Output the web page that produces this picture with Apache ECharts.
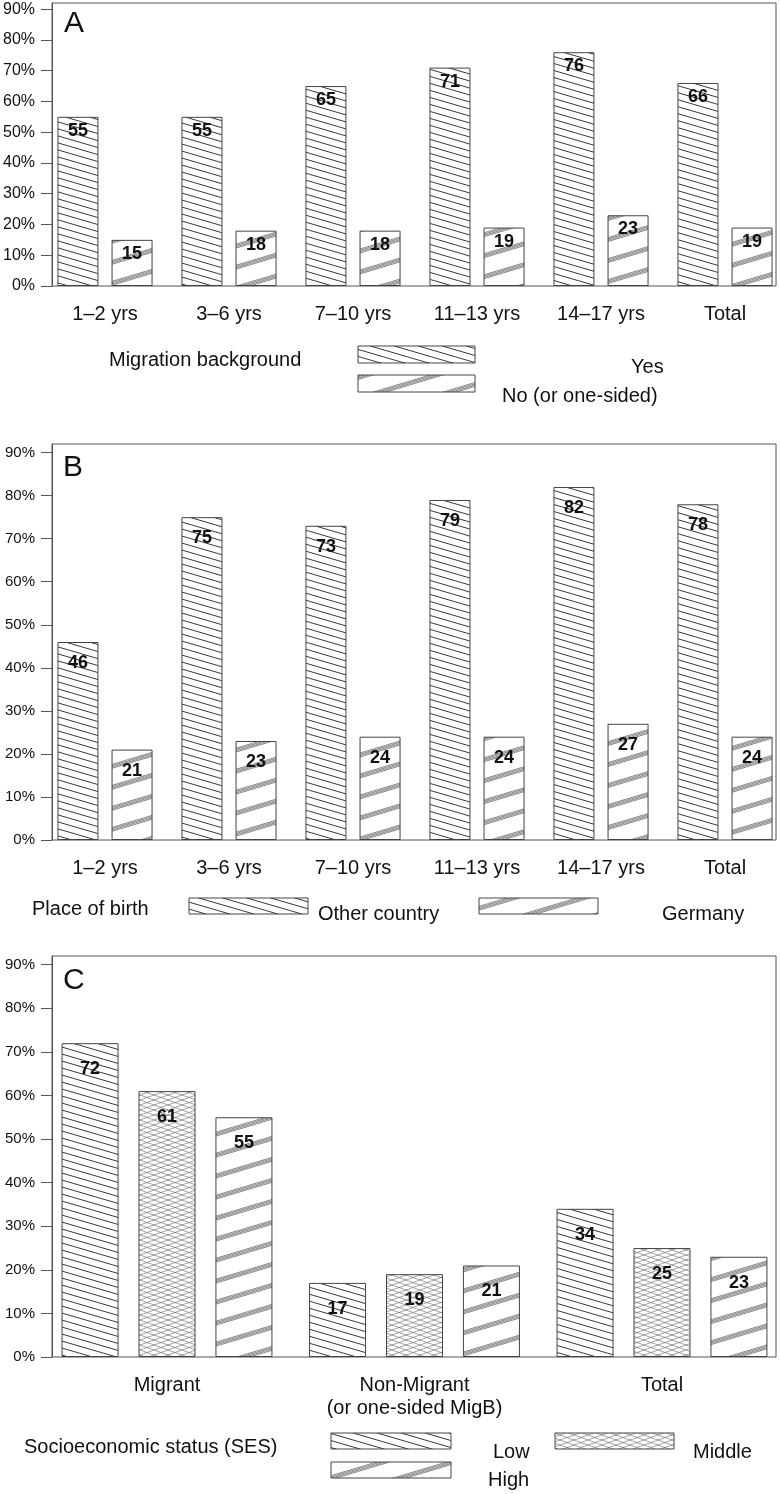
<!DOCTYPE html>
<html><head><meta charset="utf-8">
<script src="https://cdn.jsdelivr.net/npm/echarts@6/dist/echarts.min.js"></script>
<style>html,body{margin:0;padding:0;background:#fff}#c{width:780px;height:1494px}</style>
</head><body><div id="c"></div>
<script>
// ---- data ----
const ageCategories = ['1–2 yrs', '3–6 yrs', '7–10 yrs', '11–13 yrs', '14–17 yrs', 'Total'];
const migYes = [55, 55, 65, 71, 76, 66];
const migNo = [15, 18, 18, 19, 23, 19];
const birthOther = [46, 75, 73, 79, 82, 78];
const birthGermany = [21, 23, 24, 24, 27, 24];
const sesCategories = ['Migrant', 'Non-Migrant\n(or one-sided MigB)', 'Total'];
const sesLow = [72, 17, 34];
const sesMiddle = [61, 19, 25];
const sesHigh = [55, 21, 23];
const yTicks = [0, 10, 20, 30, 40, 50, 60, 70, 80, 90];

const FONT = 'Liberation Sans, Arial, Helvetica, sans-serif';

// ---- patterns ----
function tile(w, h, draw) {
  const c = document.createElement('canvas');
  c.width = w; c.height = h;
  const ctx = c.getContext('2d');
  ctx.fillStyle = '#fff'; ctx.fillRect(0, 0, w, h);
  draw(ctx, w, h);
  return { image: c, repeat: 'repeat' };
}
const patDown = tile(24, 7, (ctx, w, h) => {
  ctx.strokeStyle = '#222'; ctx.lineWidth = 0.9;
  for (let k = -1; k <= 1; k++) { ctx.beginPath(); ctx.moveTo(0, k * h); ctx.lineTo(w, k * h + h); ctx.stroke(); }
});
const patUp = tile(70, 21, (ctx, w, h) => {
  ctx.strokeStyle = '#555'; ctx.lineWidth = 0.7;
  for (let k = -1; k <= 1; k++) {
    for (let d = 0; d < 4; d++) {
      const o = d * 1.3;
      ctx.beginPath(); ctx.moveTo(0, h + k * h + o); ctx.lineTo(w, k * h + o); ctx.stroke();
    }
  }
});
const patCross = tile(14, 5, (ctx, w, h) => {
  ctx.strokeStyle = '#666'; ctx.lineWidth = 0.6;
  for (let k = -1; k <= 1; k++) {
    ctx.beginPath(); ctx.moveTo(0, k * h); ctx.lineTo(w, k * h + h); ctx.stroke();
    ctx.beginPath(); ctx.moveTo(0, k * h + h); ctx.lineTo(w, k * h); ctx.stroke();
  }
});

// ---- layout helpers ----
const panels = [
  { top: 3, height: 283, left: 105, right: 55, cats: ageCategories, yFont: 16 },
  { top: 444, height: 396, left: 105, right: 55, cats: ageCategories, yFont: 15 },
  { top: 956, height: 401, left: 167, right: 118, cats: sesCategories, yFont: 15 }
];
const grid = [], xAxis = [], yAxis = [];
panels.forEach((p, i) => {
  grid.push({ left: 52, right: 4, top: p.top, height: p.height, show: true, borderColor: '#555', borderWidth: 1, backgroundColor: 'transparent' });
  grid.push({ left: p.left, right: p.right, top: p.top, height: p.height });
  xAxis.push({ gridIndex: 2 * i, type: 'value', min: 0, max: 1, show: false });
  xAxis.push({ gridIndex: 2 * i + 1, type: 'category', data: p.cats, boundaryGap: false,
    axisLine: { show: false }, axisTick: { show: false }, splitLine: { show: false },
    axisLabel: { interval: 0, fontSize: 20, fontFamily: FONT, color: '#111', margin: 17, lineHeight: 23 } });
  yAxis.push({ gridIndex: 2 * i, type: 'value', min: 0, max: 92, splitLine: { show: false },
    axisLine: { show: true, lineStyle: { color: '#555', width: 1 } },
    axisTick: { show: true, length: 11, customValues: yTicks, lineStyle: { color: '#555' } },
    axisLabel: { customValues: yTicks, formatter: '{value}%', fontSize: p.yFont, fontFamily: FONT, color: '#111', margin: 17 } });
  yAxis.push({ gridIndex: 2 * i + 1, type: 'value', min: 0, max: 92, show: false, splitLine: { show: false } });
});

function bar(name, data, axisIdx, pattern, barWidth, barGap, distance) {
  return {
    type: 'bar', name, data, xAxisIndex: axisIdx, yAxisIndex: axisIdx, barWidth, barGap,
    itemStyle: { color: pattern, borderColor: '#444', borderWidth: 1 },
    label: { show: true, position: 'insideTop', distance, fontSize: 18, fontWeight: 'bold', color: '#111', fontFamily: FONT }
  };
}
const series = [
  bar('Yes', migYes, 1, patDown, 41, '32%', 5),
  bar('No (or one-sided)', migNo, 1, patUp, 41, '32%', 5),
  bar('Other country', birthOther, 3, patDown, 41, '32%', 12),
  bar('Germany', birthGermany, 3, patUp, 41, '32%', 12),
  bar('Low', sesLow, 5, patDown, 57, '35%', 17),
  bar('Middle', sesMiddle, 5, patCross, 57, '35%', 17),
  bar('High', sesHigh, 5, patUp, 57, '35%', 17)
];

function txt(text, x, y, size) {
  return { type: 'text', x, y, silent: true,
    style: { text, fontSize: size, fontFamily: FONT, fill: '#111', align: 'left', verticalAlign: 'middle', textAlign: 'left', textVerticalAlign: 'middle' } };
}
function swatch(x, y, w, h, pattern) {
  return { type: 'rect', silent: true, shape: { x, y, width: w, height: h }, style: { fill: pattern, stroke: '#444', lineWidth: 1 } };
}
const graphic = [
  txt('A', 64, 24, 30), txt('B', 63, 468, 30), txt('C', 63, 981, 30),
  txt('Migration background', 109, 360, 20),
  swatch(358, 346, 117, 17, patDown), swatch(358, 375, 117, 17, patUp),
  txt('Yes', 631, 367, 20), txt('No (or one-sided)', 502, 396, 20),
  txt('Place of birth', 32, 909, 20),
  swatch(189, 898, 119, 16, patDown), txt('Other country', 318, 914, 20),
  swatch(479, 898, 119, 16, patUp), txt('Germany', 662, 914, 20),
  txt('Socioeconomic status (SES)', 24, 1447, 20),
  swatch(331, 1433, 120, 16, patDown), txt('Low', 493, 1452, 20),
  swatch(555, 1433, 119, 16, patCross), txt('Middle', 693, 1452, 20),
  swatch(331, 1462, 120, 16, patUp), txt('High', 488, 1480, 20)
];

const chart = echarts.init(document.getElementById('c'), null, { renderer: 'canvas' });
chart.setOption({ animation: false, backgroundColor: '#fff', grid, xAxis, yAxis, series, graphic });
</script></body></html>
